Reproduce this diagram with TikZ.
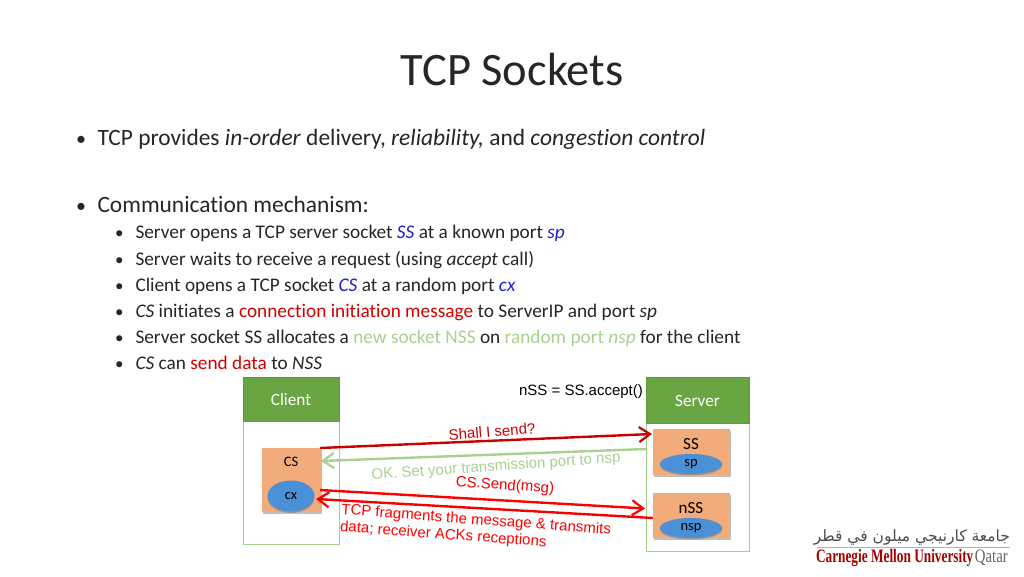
\documentclass[tikz,border=0pt]{standalone}
\usepackage{fontspec}
\setmainfont{Carlito}[Ligatures=NoCommon]
\newfontfamily\arialf{Liberation Sans}
\newfontfamily\logoserif{Liberation Serif}
\newfontfamily\arabicfont[Script=Arabic]{DejaVu Sans}
\TeXXeTstate=1
\usetikzlibrary{shadows,arrows.meta,shapes.geometric}
\definecolor{hdr}{HTML}{6AA544}
\definecolor{hdredge}{HTML}{5E9A3A}
\definecolor{boxedge}{HTML}{A3CF8C}
\definecolor{sock}{HTML}{F2AC7C}
\definecolor{port}{HTML}{4A90D6}
\definecolor{lgreen}{HTML}{A9D18E}
\definecolor{dred}{HTML}{C00000}
\definecolor{rred}{HTML}{FF0000}
\definecolor{tblue}{HTML}{1F1FD0}
\definecolor{ttext}{HTML}{262626}
\tikzset{
 x=1pt,y=-1pt,
 every node/.style={inner sep=0pt,outer sep=0pt},
 line1/.style={anchor=base west,font=\fontsize{23.4}{26}\selectfont,text=ttext},
 line2/.style={anchor=base west,font=\fontsize{19.3}{22}\selectfont,text=ttext},
 bul1/.style={anchor=base west,font=\fontsize{20}{24}\selectfont,text=ttext},
 bul2/.style={anchor=base west,font=\fontsize{17}{20}\selectfont,text=ttext},
 hdrbox/.style={draw=hdredge,fill=hdr,line width=.8pt},
 hdrlab/.style={text=white,font=\fontsize{17.2}{20}\selectfont},
 bodybox/.style={draw=boxedge,line width=1pt,fill=white},
 sockbox/.style={fill=sock,drop shadow={shadow xshift=1pt,shadow yshift=-1.5pt,opacity=.5}},
 portell/.style={ellipse,fill=port,drop shadow={shadow xshift=0pt,shadow yshift=-1.5pt,opacity=.6},font=\fontsize{14.5}{16}\selectfont,text=black},
 socklab/.style={font=\fontsize{17}{20}\selectfont,text=black},
 msg/.style={font=\arialf\fontsize{15}{17}\selectfont},
 conn/.style={line width=2.4pt,-{Straight Barb[length=11pt,width=15pt,line width=2.2pt]}},
}
\begin{document}
\begin{tikzpicture}
\useasboundingbox (0,0) rectangle (1024,576);
\fill[white] (0,0) rectangle (1024,576);
\node[font=\fontsize{46.5}{50}\selectfont,text=ttext] (title) at (512,70) {TCP Sockets};

\node[bul1] (b1m) at (76,145) {•};
\node[line1] (b1) at (97.5,145) {TCP provides \textit{in-order} delivery, \textit{reliability,} and \textit{congestion control}};
\node[bul1] (b2m) at (76,212) {•};
\node[line1] (b2) at (97.5,212) {Communication mechanism:};

\node[bul2] (s1m) at (115,238.5) {•};
\node[line2] (s1) at (135.5,238.5) {Server opens a TCP server socket \textcolor{tblue}{\textit{SS}} at a known port \textcolor{tblue}{\textit{sp}}};
\node[bul2] (s2m) at (115,265) {•};
\node[line2] (s2) at (135.5,265) {Server waits to receive a request (using \textit{accept} call)};
\node[bul2] (s3m) at (115,291) {•};
\node[line2] (s3) at (135.5,291) {Client opens a TCP socket \textcolor{tblue}{\textit{CS}} at a random port \textcolor{tblue}{\textit{cx}}};
\node[bul2] (s4m) at (115,317) {•};
\node[line2] (s4) at (135.5,317) {\textit{CS} initiates a \textcolor{dred!70!rred}{connection initiation message} to ServerIP and port \textit{sp}};
\node[bul2] (s5m) at (115,343) {•};
\node[line2] (s5) at (135.5,343) {Server socket SS allocates a \textcolor{lgreen}{new socket NSS} on \textcolor{lgreen}{random port \textit{nsp}} for the client};
\node[bul2] (s6m) at (115,369) {•};
\node[line2] (s6) at (135.5,369) {\textit{CS} can \textcolor{dred!70!rred}{send data} to \textit{NSS}};

% Client
\node[bodybox,minimum width=96pt,minimum height=124pt,anchor=north west] (clientbody) at (243,420) {};
\node[hdrbox,minimum width=96pt,minimum height=43.5pt,anchor=north west] (client) at (243,377.5) {};
\node[hdrlab] (clientlab) at (291,400) {Client};
\node[sockbox,minimum width=58.5pt,minimum height=64pt,anchor=north west] (cs) at (262,448) {};
\node[socklab,font=\fontsize{14.5}{17}\selectfont] (cslab) at (291,461.5) {CS};
\node[portell,minimum width=47pt,minimum height=31pt] (cx) at (291,496) {cx};

% Server
\node[bodybox,minimum width=103pt,minimum height=128pt,anchor=north west] (serverbody) at (646,423) {};
\node[hdrbox,minimum width=103pt,minimum height=45.5pt,anchor=north west] (server) at (646,377.5) {};
\node[hdrlab] (serverlab) at (697.5,401) {Server};
\node[sockbox,minimum width=77pt,minimum height=46pt,anchor=north west] (ss) at (653,429) {};
\node[socklab] (sslab) at (691,444) {SS};
\node[portell,minimum width=62pt,minimum height=20pt] (sp) at (691,464) {\raisebox{-2pt}{sp}};
\node[sockbox,minimum width=77pt,minimum height=45pt,anchor=north west] (nss) at (653,493) {};
\node[socklab] (nsslab) at (691,508) {nSS};
\node[portell,minimum width=62pt,minimum height=20pt] (nsp) at (691,528) {\raisebox{-2pt}{nsp}};

\node[msg,text=black] (accept) at (581,391.5) {nSS = SS.accept()};

% connectors
\coordinate (a1s) at (320,448); \coordinate (a1e) at (652,434);
\draw[conn,draw=dred!85!rred] (a1s) -- (a1e);
\coordinate (a2s) at (646,449); \coordinate (a2e) at (321,461);
\draw[conn,draw=lgreen] (a2s) -- (a2e);
\coordinate (a3s) at (320,490); \coordinate (a3e) at (645,508.5);
\draw[conn,draw=rred] (a3s) -- (a3e);
\coordinate (a4s) at (653,518); \coordinate (a4e) at (316,499);
\draw[conn,draw=rred!85!dred] (a4s) -- (a4e);

\node[msg,text=dred!80!rred,rotate=4.5] (m1) at (492,431.5) {Shall I send?};
\node[msg,text=lgreen,rotate=4] (m2) at (496,467) {OK. Set your transmission port to nsp};
\node[msg,text=rred!85!dred,rotate=-4] (m3) at (505,486) {CS.Send(msg)};
\node[msg,text=rred,rotate=-4.3,align=left] (m4) at (475.5,529) {TCP fragments the message \& transmits\\data; receiver ACKs receptions};

% logo
\node[text=black!70,anchor=east] (logoar) at (1010,537) {\arabicfont\fontsize{15.5}{17}\selectfont\beginR جامعة كارنيجي ميلون في قطر\endR};
\draw[black!30,line width=.4pt] (817,547.5) -- (1010,547.5);
\node[anchor=base west] (logoen) at (816,562) {\logoserif\fontsize{19}{20}\selectfont\scalebox{.70}[1]{\textbf{\textcolor{dred!85!black}{Carnegie Mellon University}}}\hspace{1.5pt}\scalebox{.78}[1]{\textcolor{black!60}{Qatar}}};
\end{tikzpicture}
\end{document}
